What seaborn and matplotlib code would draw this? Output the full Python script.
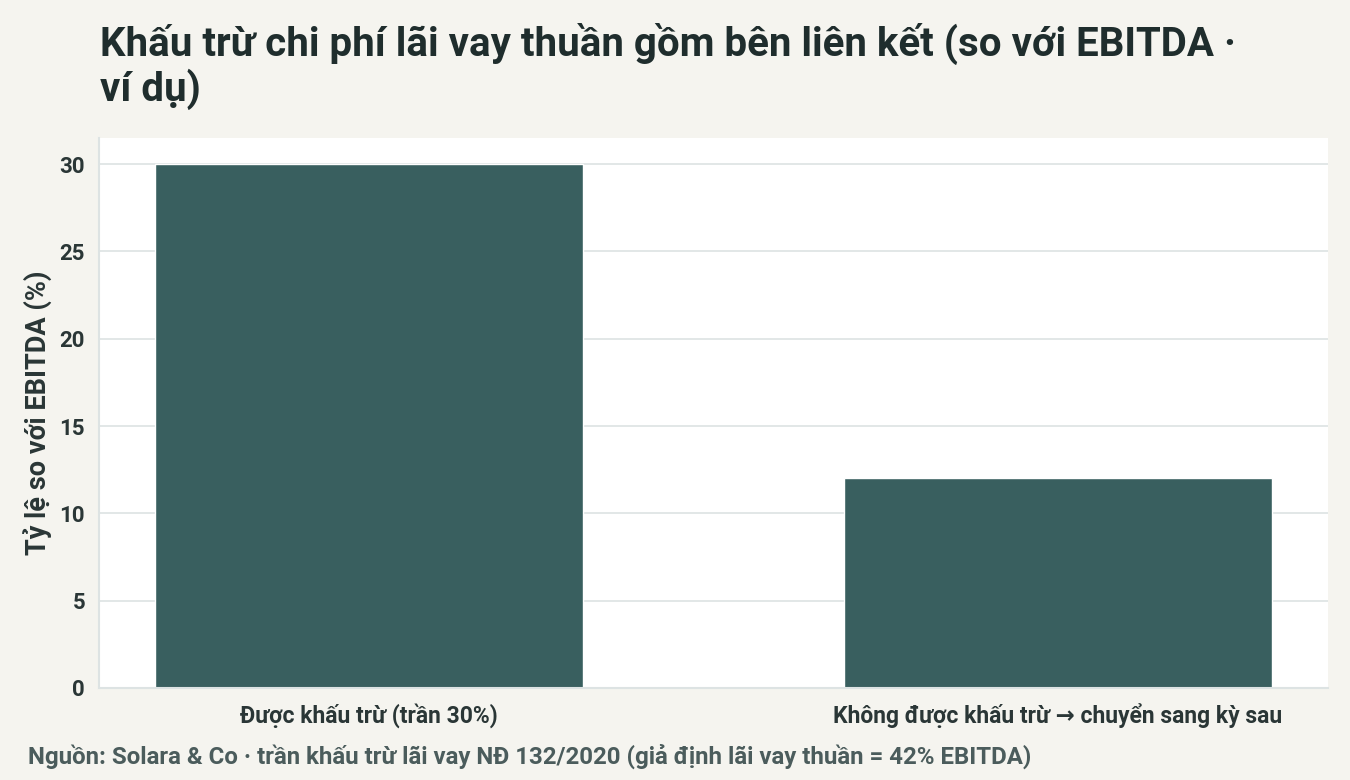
import matplotlib
matplotlib.use("Agg")
import matplotlib.pyplot as plt
import seaborn as sns
import pandas as pd

# data
categories = ["Được khấu trừ (trần 30%)", "Không được khấu trừ → chuyển sang kỳ sau"]
values = [30, 12]
y_ticks = [0, 5, 10, 15, 20, 25, 30]

title = "Khấu trừ chi phí lãi vay thuần gồm bên liên kết (so với EBITDA ·\nví dụ)"
y_label = "Tỷ lệ so với EBITDA (%)"
source = "Nguồn: Solara & Co · trần khấu trừ lãi vay NĐ 132/2020 (giả định lãi vay thuần = 42% EBITDA)"

BG = "#F5F4EF"
BAR = "#395F5F"
INK = "#1F2D2D"
GRID = "#DDE3E3"

sns.set_theme(style="whitegrid")
plt.rcParams["font.family"] = ["Roboto", "DejaVu Sans"]

df = pd.DataFrame({"cat": categories, "val": values})

fig = plt.figure(figsize=(13.5, 7.8), dpi=100, facecolor=BG)
ax = fig.add_axes([99 / 1350, 1 - 688 / 780, (1328 - 99) / 1350, (688 - 138) / 780])
ax.set_facecolor("white")

sns.barplot(data=df, x="cat", y="val", color=BAR, width=0.62, saturation=1, ax=ax)

ax.set_xlim(-0.392, 1.392)
ax.set_ylim(0, 31.5)
ax.set_yticks(y_ticks)
ax.yaxis.grid(True, color=GRID, linewidth=1.2)
ax.xaxis.grid(False)
ax.set_axisbelow(True)

for s in ["top", "right"]:
    ax.spines[s].set_visible(False)
for s in ["left", "bottom"]:
    ax.spines[s].set_color(GRID)
    ax.spines[s].set_linewidth(1.5)

ax.tick_params(axis="both", length=5, width=1.2, color="#555555")
ax.tick_params(axis="x", labelsize=16.5, pad=6)
ax.tick_params(axis="y", labelsize=16, pad=5)
for lab in ax.get_xticklabels() + ax.get_yticklabels():
    lab.set_fontweight("bold")
    lab.set_color("#2A3636")

ax.set_xlabel("")
ax.set_ylabel(y_label, fontsize=19.5, fontweight="bold", color="#2A3636", labelpad=5)

fig.text(100 / 1350, 1 - 23 / 780, title, fontsize=29, fontweight="bold", color=INK,
         ha="left", va="top", linespacing=1.1)
fig.text(28 / 1350, 1 - 756 / 780, source, fontsize=17.3, fontweight="bold", color="#4B5C5C",
         ha="left", va="center")

fig.savefig("out.png", dpi=100, facecolor=BG)
